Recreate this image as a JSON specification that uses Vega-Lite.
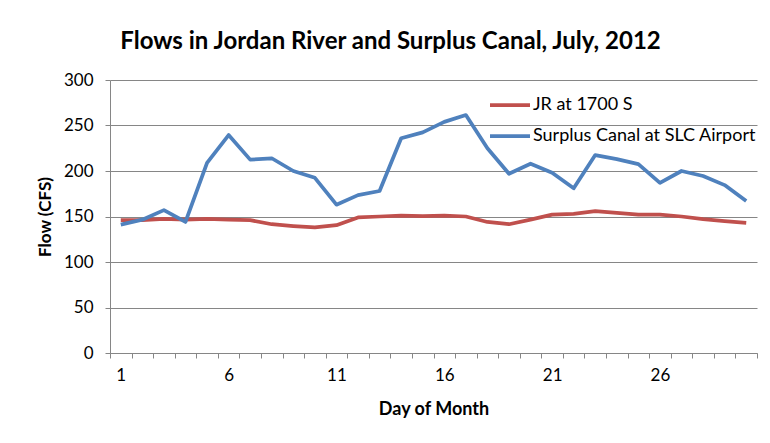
{
  "$schema": "https://vega.github.io/schema/vega-lite/v6.json",
  "width": 647,
  "height": 273,
  "autosize": {"type": "none"},
  "padding": {"left": 110, "top": 80, "right": 13, "bottom": 90},
  "background": "white",
  "config": {
    "view": {"stroke": null},
    "font": "Lato",
    "axis": {"labelFont": "Lato", "titleFont": "Lato", "labelColor": "#000000", "titleColor": "#000000"}
  },
  "title": {
    "text": "Flows in Jordan River and Surplus Canal, July, 2012",
    "font": "Lato",
    "fontSize": 24,
    "fontWeight": "bold",
    "color": "#000000",
    "anchor": "middle",
    "dx": -43,
    "offset": 17
  },
  "datasets": {
    "flows": [
      {"day": 1, "series": "JR at 1700 S", "flow": 146},
      {"day": 2, "series": "JR at 1700 S", "flow": 146},
      {"day": 3, "series": "JR at 1700 S", "flow": 147.5},
      {"day": 4, "series": "JR at 1700 S", "flow": 146.5},
      {"day": 5, "series": "JR at 1700 S", "flow": 147.5},
      {"day": 6, "series": "JR at 1700 S", "flow": 146.5},
      {"day": 7, "series": "JR at 1700 S", "flow": 146},
      {"day": 8, "series": "JR at 1700 S", "flow": 141.5},
      {"day": 9, "series": "JR at 1700 S", "flow": 139.5},
      {"day": 10, "series": "JR at 1700 S", "flow": 138},
      {"day": 11, "series": "JR at 1700 S", "flow": 140.5},
      {"day": 12, "series": "JR at 1700 S", "flow": 149},
      {"day": 13, "series": "JR at 1700 S", "flow": 150},
      {"day": 14, "series": "JR at 1700 S", "flow": 151},
      {"day": 15, "series": "JR at 1700 S", "flow": 150.5},
      {"day": 16, "series": "JR at 1700 S", "flow": 151},
      {"day": 17, "series": "JR at 1700 S", "flow": 150},
      {"day": 18, "series": "JR at 1700 S", "flow": 144},
      {"day": 19, "series": "JR at 1700 S", "flow": 141.5},
      {"day": 20, "series": "JR at 1700 S", "flow": 146.5},
      {"day": 21, "series": "JR at 1700 S", "flow": 152},
      {"day": 22, "series": "JR at 1700 S", "flow": 153},
      {"day": 23, "series": "JR at 1700 S", "flow": 156},
      {"day": 24, "series": "JR at 1700 S", "flow": 154},
      {"day": 25, "series": "JR at 1700 S", "flow": 152},
      {"day": 26, "series": "JR at 1700 S", "flow": 152},
      {"day": 27, "series": "JR at 1700 S", "flow": 150},
      {"day": 28, "series": "JR at 1700 S", "flow": 147},
      {"day": 29, "series": "JR at 1700 S", "flow": 145},
      {"day": 30, "series": "JR at 1700 S", "flow": 143},
      {"day": 1, "series": "Surplus Canal at SLC Airport", "flow": 141},
      {"day": 2, "series": "Surplus Canal at SLC Airport", "flow": 146.5},
      {"day": 3, "series": "Surplus Canal at SLC Airport", "flow": 157},
      {"day": 4, "series": "Surplus Canal at SLC Airport", "flow": 144},
      {"day": 5, "series": "Surplus Canal at SLC Airport", "flow": 209},
      {"day": 6, "series": "Surplus Canal at SLC Airport", "flow": 239.5},
      {"day": 7, "series": "Surplus Canal at SLC Airport", "flow": 212.5},
      {"day": 8, "series": "Surplus Canal at SLC Airport", "flow": 214},
      {"day": 9, "series": "Surplus Canal at SLC Airport", "flow": 200},
      {"day": 10, "series": "Surplus Canal at SLC Airport", "flow": 192.5},
      {"day": 11, "series": "Surplus Canal at SLC Airport", "flow": 163},
      {"day": 12, "series": "Surplus Canal at SLC Airport", "flow": 173.5},
      {"day": 13, "series": "Surplus Canal at SLC Airport", "flow": 178},
      {"day": 14, "series": "Surplus Canal at SLC Airport", "flow": 236},
      {"day": 15, "series": "Surplus Canal at SLC Airport", "flow": 242.5},
      {"day": 16, "series": "Surplus Canal at SLC Airport", "flow": 254},
      {"day": 17, "series": "Surplus Canal at SLC Airport", "flow": 261.5},
      {"day": 18, "series": "Surplus Canal at SLC Airport", "flow": 225},
      {"day": 19, "series": "Surplus Canal at SLC Airport", "flow": 197},
      {"day": 20, "series": "Surplus Canal at SLC Airport", "flow": 208},
      {"day": 21, "series": "Surplus Canal at SLC Airport", "flow": 198},
      {"day": 22, "series": "Surplus Canal at SLC Airport", "flow": 181},
      {"day": 23, "series": "Surplus Canal at SLC Airport", "flow": 217.5},
      {"day": 24, "series": "Surplus Canal at SLC Airport", "flow": 213},
      {"day": 25, "series": "Surplus Canal at SLC Airport", "flow": 207.5},
      {"day": 26, "series": "Surplus Canal at SLC Airport", "flow": 187},
      {"day": 27, "series": "Surplus Canal at SLC Airport", "flow": 200},
      {"day": 28, "series": "Surplus Canal at SLC Airport", "flow": 194.5},
      {"day": 29, "series": "Surplus Canal at SLC Airport", "flow": 184.5},
      {"day": 30, "series": "Surplus Canal at SLC Airport", "flow": 167}
    ]
  },
  "data": {"name": "flows"},
  "mark": {"type": "line", "strokeWidth": 3.75, "strokeJoin": "round", "strokeCap": "butt"},
  "encoding": {
    "x": {
      "field": "day",
      "type": "quantitative",
      "scale": {"domain": [0.5, 30.5], "nice": false, "zero": false},
      "axis": {
        "title": "Day of Month",
        "titleFontSize": 18,
        "titleFontWeight": "bold",
        "titlePadding": 17,
        "values": [0.5, 1.5, 2.5, 3.5, 4.5, 5.5, 6.5, 7.5, 8.5, 9.5, 10.5, 11.5, 12.5, 13.5, 14.5, 15.5, 16.5, 17.5, 18.5, 19.5, 20.5, 21.5, 22.5, 23.5, 24.5, 25.5, 26.5, 27.5, 28.5, 29.5, 30.5],
        "labelExpr": "((datum.value - 0.5) % 5 == 0 && datum.value < 30) ? format(datum.value + 0.5, 'd') : ''",
        "labelOverlap": false,
        "labelFlush": false,
        "labelOffset": 10.8,
        "labelFontSize": 17,
        "labelPadding": 9,
        "labelAlign": "center",
        "grid": false,
        "domainColor": "#868686",
        "domainWidth": 1,
        "tickColor": "#868686",
        "tickSize": 5
      }
    },
    "y": {
      "field": "flow",
      "type": "quantitative",
      "scale": {"domain": [0, 300], "nice": false},
      "axis": {
        "title": "Flow (CFS)",
        "titleFontSize": 17,
        "titleFontWeight": "bold",
        "titlePadding": 9,
        "values": [0, 50, 100, 150, 200, 250, 300],
        "labelFontSize": 17,
        "labelPadding": 12,
        "grid": true,
        "gridColor": "#868686",
        "gridWidth": 1,
        "domainColor": "#868686",
        "tickColor": "#868686",
        "tickSize": 5
      }
    },
    "color": {
      "field": "series",
      "type": "nominal",
      "scale": {"domain": ["JR at 1700 S", "Surplus Canal at SLC Airport"], "range": ["#C0504D", "#4F81BD"]},
      "legend": {
        "title": null,
        "orient": "none",
        "legendX": 378,
        "legendY": 3,
        "padding": 0,
        "symbolType": "stroke",
        "symbolSize": 1600,
        "symbolStrokeWidth": 3.75,
        "labelFontSize": 18,
        "labelFont": "Lato",
        "labelColor": "#000000",
        "labelOffset": 1,
        "rowPadding": 0,
        "labelLimit": 300
      }
    }
  }
}
